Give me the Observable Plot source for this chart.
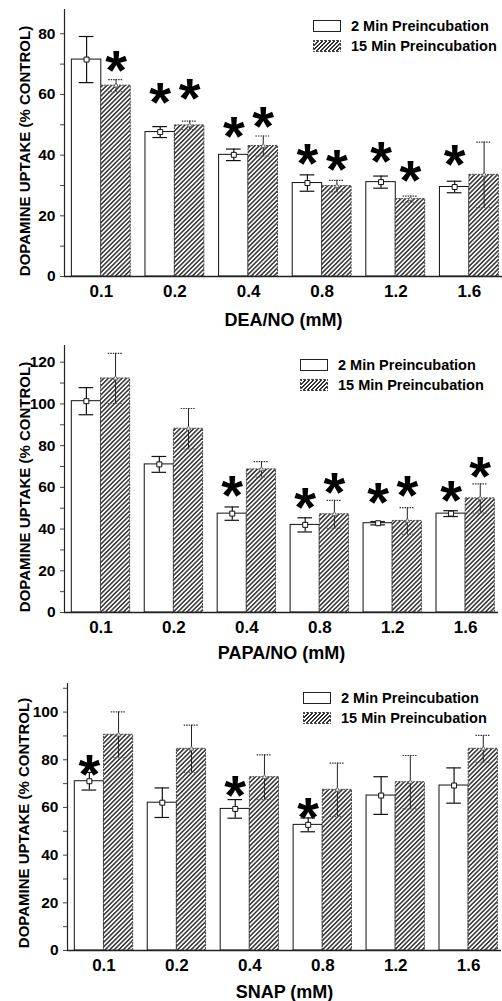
<!DOCTYPE html>
<html>
<head>
<meta charset="utf-8">
<script src="https://cdn.jsdelivr.net/npm/d3@7"></script>
<script src="https://cdn.jsdelivr.net/npm/@observablehq/plot@0.6"></script>
<style>
  html, body { margin: 0; padding: 0; background: #fff; }
  body { font-family: "Liberation Sans", Arial, Helvetica, sans-serif; width: 502px; height: 1001px; overflow: hidden; }
  .panel { position: relative; width: 502px; }
  .panel svg { display: block; }
  .legend { position: absolute; font-weight: bold; font-size: 14.5px; color: #000; line-height: 20px; }
  .legend .row { display: flex; align-items: center; height: 20px; white-space: nowrap; }
  .legend .sw { width: 28px; height: 12px; box-sizing: border-box; margin-right: 10px; }
  .legend .sw.white { border: 1px solid #222; background: #fff; }
  .legend .sw.hatch { border: 1px dotted #555; background: repeating-linear-gradient(135deg, #333 0 1.1px, #fff 1.1px 2.8px); }
</style>
</head>
<body>
<div id="chart"></div>
<script>
// ---- data ----
const concentrations = ["0.1", "0.2", "0.4", "0.8", "1.2", "1.6"];
const seriesNames = ["2 Min Preincubation", "15 Min Preincubation"];
const yLabel = "DOPAMINE UPTAKE (% CONTROL)";

// DEA/NO
const deaMean2  = [71.5, 47.6, 40.1, 30.8, 31.1, 29.5];
const deaErr2   = [7.6, 1.8, 1.9, 2.7, 2.0, 1.9];
const deaMean15 = [62.9, 49.8, 43.0, 29.8, 25.5, 33.5];
const deaErr15  = [2.0, 1.4, 3.3, 1.9, 1.0, 10.8];
const deaStar2  = [null, 61.5, 50.3, 41.5, 42.3, 41.0];
const deaStar15 = [72.1, 63.0, 53.6, 39.6, 36.0, null];

// PAPA/NO
const papaMean2  = [101.3, 71.0, 47.4, 42.0, 42.8, 47.4];
const papaErr2   = [6.5, 3.8, 3.2, 3.4, 0.8, 1.4];
const papaMean15 = [112.2, 88.1, 68.6, 47.1, 43.9, 54.7];
const papaErr15  = [12.0, 9.7, 3.7, 6.7, 6.4, 7.0];
const papaStar2  = [null, null, 62.2, 56.6, 59.0, 59.8];
const papaStar15 = [null, null, null, 63.8, 62.2, 71.3];

// SNAP
const snapMean2  = [71.0, 62.0, 59.4, 52.7, 65.0, 69.2];
const snapErr2   = [3.7, 6.2, 3.9, 2.9, 7.9, 7.4];
const snapMean15 = [90.5, 84.6, 72.7, 67.4, 70.6, 84.6];
const snapErr15  = [9.6, 9.9, 9.4, 11.2, 11.2, 5.6];
const snapStar2  = [79.4, null, 70.6, 61.3, null, null];
const snapStar15 = [null, null, null, null, null, null];

// ---- panel configuration (layout) ----
const panels = [
  {title: "DEA/NO (mM)", m2: deaMean2, e2: deaErr2, m15: deaMean15, e15: deaErr15, s2: deaStar2, s15: deaStar15,
   yMax: 88, height: 335, marginTop: 9, marginBottom: 59, marginLeft: 64, marginRight: 0,
   titleDy: 44, yLabelDx: -39, yLabelDy: 8, legend: {left: 313, top: 16}},
  {title: "PAPA/NO (mM)", m2: papaMean2, e2: papaErr2, m15: papaMean15, e15: papaErr15, s2: papaStar2, s15: papaStar15,
   yMax: 128, height: 333, marginTop: 10, marginBottom: 56, marginLeft: 64, marginRight: 4,
   titleDy: 41, yLabelDx: -39, yLabelDy: 8, legend: {left: 300, top: 20}},
  {title: "SNAP (mM)", m2: snapMean2, e2: snapErr2, m15: snapMean15, e15: snapErr15, s2: snapStar2, s15: snapStar15,
   yMax: 112, height: 333, marginTop: 15, marginBottom: 51, marginLeft: 67, marginRight: 1,
   titleDy: 41.5, yLabelDx: -43, yLabelDy: 6, legend: {left: 303, top: 20}}
];

const BAR = 0.4;   // half group width (in category units)
const CAP = 0.1;   // error-bar cap half width
const X0 = -0.5, X1 = 5.45;
const FONT = '"Liberation Sans", Arial, Helvetica, sans-serif';
const STAR_SIZE = 56;

const chart = document.getElementById("chart");

panels.forEach((p, k) => {
  const white = concentrations.map((c, i) => ({i, conc: c, mean: p.m2[i], err: p.e2[i], star: p.s2[i], cx: i - BAR / 2}));
  const hatch = concentrations.map((c, i) => ({i, conc: c, mean: p.m15[i], err: p.e15[i], star: p.s15[i], cx: i + BAR / 2}));
  const stars = [...white, ...hatch].filter(d => d.star != null);
  const patId = "hatch" + k;

  const svg = Plot.plot({
    width: 502,
    height: p.height,
    marginTop: p.marginTop,
    marginBottom: p.marginBottom,
    marginLeft: p.marginLeft,
    marginRight: p.marginRight,
    style: {fontFamily: FONT, color: "#000", background: "#fff"},
    x: {domain: [X0, X1]},
    y: {domain: [0, p.yMax]},
    marks: [
      // bars
      Plot.rect(white, {x1: d => d.i - BAR, x2: "i", y1: 0, y2: "mean", fill: "#fff", stroke: "#111", strokeWidth: 1}),
      Plot.rect(hatch, {x1: "i", x2: d => d.i + BAR, y1: 0, y2: "mean", fill: `url(#${patId})`, stroke: "#444", strokeWidth: 1, strokeDasharray: "2,1"}),
      // error bars: 2 min (solid)
      Plot.ruleX(white, {x: "cx", y1: d => d.mean - d.err, y2: d => d.mean + d.err, stroke: "#111", strokeWidth: 1.2}),
      Plot.ruleY(white, {y: d => d.mean + d.err, x1: d => d.cx - CAP, x2: d => d.cx + CAP, stroke: "#111", strokeWidth: 1.2}),
      Plot.ruleY(white, {y: d => d.mean - d.err, x1: d => d.cx - CAP, x2: d => d.cx + CAP, stroke: "#111", strokeWidth: 1.2}),
      // error bars: 15 min (dotted caps)
      Plot.ruleX(hatch, {x: "cx", y1: d => d.mean - d.err, y2: d => d.mean + d.err, stroke: "#222", strokeWidth: 1}),
      Plot.ruleY(hatch, {y: d => d.mean + d.err, x1: d => d.cx - CAP, x2: d => d.cx + CAP, stroke: "#333", strokeWidth: 1.2, strokeDasharray: "1.5,1"}),
      Plot.ruleY(hatch, {y: d => d.mean - d.err, x1: d => d.cx - CAP, x2: d => d.cx + CAP, stroke: "#555", strokeWidth: 1, strokeDasharray: "1.5,1"}),
      // mean markers
      Plot.dot(white, {x: "cx", y: "mean", symbol: "square", r: 2.8, fill: "#fff", stroke: "#111", strokeWidth: 1}),
      Plot.dot(hatch, {x: "cx", y: "mean", symbol: "triangle2", r: 2.2, fill: "#eee", stroke: "#555", strokeWidth: 0.8}),
      // significance stars
      Plot.text(stars, {x: "cx", y: "star", text: () => "*", fontSize: STAR_SIZE, fontWeight: "bold",
        textAnchor: "middle", lineAnchor: "middle", dy: STAR_SIZE * 0.24, fill: "#000"}),
      // axes
      Plot.ruleX([X0], {stroke: "#222", strokeWidth: 1.2}),
      Plot.ruleY([0], {stroke: "#222", strokeWidth: 1.4}),
      Plot.axisY(d3.range(0, p.yMax + 1, 10), {tickFormat: d => d % 20 ? "" : d, tickSize: 4, tickPadding: 5,
        fontSize: 15.5, fontWeight: "bold", label: null, stroke: "#444"}),
      Plot.axisX(d3.range(concentrations.length), {tickFormat: i => concentrations[i], tickSize: 0, tickPadding: 8,
        fontSize: 17, fontWeight: "bold", label: null}),
      // axis titles
      Plot.text([p.title], {frameAnchor: "bottom", dy: p.titleDy, textAnchor: "middle", lineAnchor: "middle",
        fontSize: 18, fontWeight: "bold", fill: "#000"}),
      Plot.text([yLabel], {frameAnchor: "left", dx: p.yLabelDx, dy: p.yLabelDy, rotate: -90, textAnchor: "middle", lineAnchor: "middle",
        fontSize: 15, fontWeight: "bold", fill: "#000"})
    ]
  });

  // hatch pattern
  const ns = "http://www.w3.org/2000/svg";
  const defs = document.createElementNS(ns, "defs");
  const pat = document.createElementNS(ns, "pattern");
  pat.setAttribute("id", patId);
  pat.setAttribute("patternUnits", "userSpaceOnUse");
  pat.setAttribute("width", "3.2");
  pat.setAttribute("height", "3.2");
  pat.setAttribute("patternTransform", "rotate(45)");
  const bg = document.createElementNS(ns, "rect");
  bg.setAttribute("width", "3.2"); bg.setAttribute("height", "3.2"); bg.setAttribute("fill", "#fff");
  const ln = document.createElementNS(ns, "line");
  ln.setAttribute("x1", "1.6"); ln.setAttribute("y1", "0"); ln.setAttribute("x2", "1.6"); ln.setAttribute("y2", "3.2");
  ln.setAttribute("stroke", "#222"); ln.setAttribute("stroke-width", "1.4");
  pat.append(bg, ln);
  defs.append(pat);
  svg.insertBefore(defs, svg.firstChild);

  const wrap = document.createElement("div");
  wrap.className = "panel";
  wrap.append(svg);

  // legend
  const lg = document.createElement("div");
  lg.className = "legend";
  lg.style.left = p.legend.left + "px";
  lg.style.top = p.legend.top + "px";
  seriesNames.forEach((name, j) => {
    const row = document.createElement("div");
    row.className = "row";
    const sw = document.createElement("div");
    sw.className = "sw " + (j === 0 ? "white" : "hatch");
    const tx = document.createElement("span");
    tx.textContent = name;
    row.append(sw, tx);
    lg.append(row);
  });
  wrap.append(lg);
  chart.append(wrap);
});
</script>
</body>
</html>
